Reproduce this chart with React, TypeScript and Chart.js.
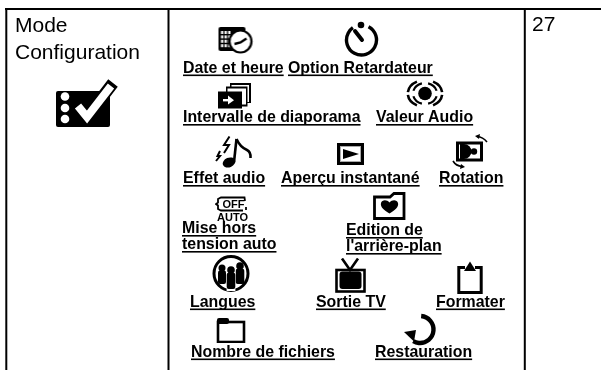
import React, { useEffect, useRef } from "react";
import { Chart, registerables } from "chart.js";

Chart.register(...registerables);

const WIDTH = 601;
const HEIGHT = 370;

// Table rules, as [x, y] runs; null separates them
const ruleX = [5, 601, null, 6.3, 6.3, null, 168.5, 168.5, null, 524.8, 524.8];
const ruleY = [9, 9, null, 8, 370, null, 8, 370, null, 8, 370];

// Plain cell text
const plainNames = ["Mode", "Configuration", "27"];
const plainX = [15, 15, 532];
const plainY = [31.5, 58.5, 31];

// Underlined bold captions
const captionNames = [
  "Date et heure", "Option Retardateur", "Intervalle de diaporama", "Valeur Audio",
  "Effet audio", "Aperçu instantané", "Rotation", "Mise hors", "tension auto",
  "Edition de", "l'arrière-plan", "Langues", "Sortie TV", "Formater",
  "Nombre de fichiers", "Restauration",
];
const captionX = [183, 288, 183, 376, 183, 281, 439, 182, 182, 346, 346, 190, 316, 436, 191, 375];
const captionY = [72.5, 72.5, 122, 122, 183, 183, 183, 233, 249, 235, 251, 306.5, 306.5, 306.5, 356.5, 356.5];

// Small text that belongs to the auto power off icon
const badgeNames = ["OFF", "AUTO"];
const badgeX = [233.5, 232.5];
const badgeY = [207.5, 221];

// Icons: centre and box size
const iconNames = ["mode", "date", "timer", "slides", "audio", "effect", "play", "rotate", "off", "heart", "people", "tv", "format", "folder", "restore"];
const iconX = [87, 235.5, 361.5, 234.5, 425, 233.5, 350.5, 470, 232.5, 389.5, 231, 350.5, 470, 231, 421];
const iconY = [103, 40, 39, 95.5, 93.5, 152.5, 154, 151.5, 204, 206, 273.5, 275.5, 277.5, 330, 329.5];
const iconW = [64, 36, 35, 35, 38, 39, 29, 38, 35, 33, 38, 31, 26, 30, 34];
const iconH = [50, 28, 36, 27, 29, 33, 24, 35, 16, 28, 39, 35, 33, 26, 33];

type Ctx = CanvasRenderingContext2D;

const poly = (c: Ctx, pts: number[][], fill = true, close = true) => {
  c.beginPath();
  pts.forEach(([x, y], i) => (i ? c.lineTo(x, y) : c.moveTo(x, y)));
  if (close) c.closePath();
  if (fill) c.fill();
  else c.stroke();
};
const disc = (c: Ctx, x: number, y: number, r: number) => {
  c.beginPath();
  c.arc(x, y, r, 0, Math.PI * 2);
  c.fill();
};
const arc = (c: Ctx, x: number, y: number, r: number, a: number, b: number, lw: number) => {
  c.lineWidth = lw;
  c.beginPath();
  c.arc(x, y, r, (a * Math.PI) / 180, (b * Math.PI) / 180);
  c.stroke();
};
const oval = (c: Ctx, x: number, y: number, rx: number, ry: number, a: number, b: number, lw: number) => {
  c.lineWidth = lw;
  c.beginPath();
  c.ellipse(x, y, rx, ry, 0, (a * Math.PI) / 180, (b * Math.PI) / 180);
  c.stroke();
};
const K = "#000";
const W = "#fff";

const painters: Record<string, (c: Ctx) => void> = {
  mode(c) {
    c.beginPath();
    c.roundRect(1, 13, 54, 36, 2);
    c.fill();
    c.fillStyle = W;
    [18.5, 30, 41].forEach((y) => disc(c, 10, y, 4.3));
    c.lineJoin = "miter";
    c.lineCap = "butt";
    c.strokeStyle = K;
    c.lineWidth = 12;
    poly(c, [[24, 29], [32, 39], [58, 5]], false, false);
    c.strokeStyle = W;
    c.lineWidth = 8;
    poly(c, [[23, 28], [32, 39], [56, 8]], false, false);
  },
  date(c) {
    c.beginPath();
    c.roundRect(1, 1, 27, 24, 2);
    c.fill();
    c.fillStyle = W;
    for (let i = 0; i < 3; i++) for (let j = 0; j < 4; j++) c.fillRect(3.5 + i * 3.6, 5 + j * 4.4, 2.3, 3);
    c.fillStyle = W;
    c.strokeStyle = K;
    c.lineWidth = 2.2;
    c.beginPath();
    c.arc(23, 15.5, 11, 0, Math.PI * 2);
    c.fill();
    c.stroke();
    c.lineWidth = 2.4;
    poly(c, [[17, 18], [23, 16.5], [29, 12.5]], false, false);
  },
  timer(c) {
    c.lineCap = "butt";
    arc(c, 17.5, 19, 15, -62, 235, 3.4);
    disc(c, 17, 4, 3.3);
    c.lineWidth = 4;
    c.lineCap = "round";
    poly(c, [[11, 10], [18, 19]], false, false);
  },
  slides(c) {
    c.fillRect(13, 1, 21, 20);
    c.fillStyle = W;
    c.fillRect(14.5, 3, 17.5, 17);
    c.fillStyle = K;
    c.fillRect(9, 4.5, 21.5, 20);
    c.fillStyle = W;
    c.fillRect(10.5, 6.5, 18.5, 16);
    c.fillStyle = K;
    c.fillRect(1, 9.5, 24, 17);
    c.fillStyle = W;
    c.fillRect(6, 17, 6, 2.4);
    poly(c, [[11, 13.5], [17, 18.2], [11, 22.5]]);
  },
  audio(c) {
    const x = 19, y = 14.5;
    disc(c, x, y, 6.8);
    c.lineCap = "butt";
    [[-75, -15], [15, 75], [105, 165], [195, 255]].forEach(([a, b]) => oval(c, x, y, 12, 10.5, a, b, 2.2));
    [[-62, -6], [6, 62], [118, 174], [186, 242]].forEach(([a, b]) => oval(c, x, y, 17.2, 13.5, a, b, 2.6));
  },
  effect(c) {
    c.save();
    c.translate(15, 26.5);
    c.rotate(-0.4);
    c.beginPath();
    c.ellipse(0, 0, 6.5, 4.8, 0, 0, Math.PI * 2);
    c.fill();
    c.restore();
    c.lineWidth = 2.6;
    c.lineCap = "butt";
    poly(c, [[20, 26], [22.5, 3]], false, false);
    c.lineWidth = 2.6;
    c.beginPath();
    c.moveTo(22.5, 3);
    c.quadraticCurveTo(26, 11, 33, 14);
    c.quadraticCurveTo(37, 16, 36.5, 22);
    c.stroke();
    c.lineWidth = 2;
    poly(c, [[15.5, 0.5], [10, 9], [15, 9], [10, 17]], false, false);
    poly(c, [[6, 15], [3.5, 20], [6, 20], [2, 25]], false, false);
  },
  play(c) {
    c.strokeStyle = K;
    c.lineWidth = 3;
    c.strokeRect(2.5, 2.5, 24, 19);
    c.strokeStyle = "#aaa";
    c.lineWidth = 1;
    c.strokeRect(4.5, 4.5, 20, 15);
    poly(c, [[7, 7], [23, 12], [7, 17]]);
  },
  rotate(c) {
    c.lineWidth = 3;
    c.strokeRect(6.5, 9, 24, 17);
    c.beginPath();
    c.moveTo(9, 10);
    c.lineTo(13, 10);
    c.arc(13, 17.5, 7.5, -Math.PI / 2, Math.PI / 2);
    c.lineTo(9, 25);
    c.closePath();
    c.fill();
    disc(c, 23, 17.5, 3.2);
    c.lineWidth = 1.6;
    c.beginPath();
    c.moveTo(36, 8);
    c.quadraticCurveTo(32, 3, 26, 2.5);
    c.stroke();
    poly(c, [[24, 2], [29, 0], [28, 5]]);
    c.beginPath();
    c.moveTo(2, 27);
    c.quadraticCurveTo(5, 32, 11, 32.5);
    c.stroke();
    poly(c, [[14, 33], [9, 35], [10, 30]]);
  },
  off(c) {
    c.lineWidth = 1.8;
    c.lineCap = "butt";
    poly(c, [[30, 5], [29.5, 1.5], [6, 1.5], [3, 3], [3, 6.5], [1, 8], [3, 9.5], [3, 13], [6, 14.5], [28, 14.5]], false, false);
    poly(c, [[31, 11], [31, 14]], false, false);
  },
  heart(c) {
    c.lineWidth = 2.8;
    c.lineJoin = "miter";
    poly(c, [[1.5, 5], [17, 5], [21, 1.5], [31, 1.5], [31, 26.5], [1.5, 26.5]], false);
    c.beginPath();
    c.moveTo(16.5, 21.5);
    c.bezierCurveTo(11, 18, 7, 15, 8, 11);
    c.bezierCurveTo(9, 7.5, 14, 7.5, 16.5, 10.5);
    c.bezierCurveTo(19, 7.5, 24, 7.5, 25, 11);
    c.bezierCurveTo(26, 15, 22, 18, 16.5, 21.5);
    c.fill();
  },
  people(c) {
    c.lineWidth = 3;
    c.beginPath();
    c.arc(19, 19.5, 17, 0, Math.PI * 2);
    c.stroke();
    const man = (x: number, top: number, bottom: number, r: number) => {
      disc(c, x, top, r);
      c.beginPath();
      c.roundRect(x - r - 0.5, top + r - 1, 2 * r + 1, bottom - top - r + 1, 2);
      c.fill();
    };
    man(10, 14, 30, 3.5);
    man(28, 12, 30, 3.8);
    c.fillStyle = W;
    c.fillRect(14.6, 13, 8.8, 24);
    c.fillStyle = K;
    man(19, 16, 35, 3.8);
  },
  tv(c) {
    c.lineWidth = 2.6;
    c.lineCap = "butt";
    poly(c, [[7, 0.5], [15, 12], [23, 0.5]], false, false);
    c.lineWidth = 2.6;
    c.strokeRect(1.5, 12, 28, 21.5);
    c.beginPath();
    c.roundRect(4.5, 13.5, 22, 17.5, 3);
    c.fill();
  },
  format(c) {
    c.lineWidth = 3;
    c.lineCap = "butt";
    poly(c, [[8, 6.5], [1.8, 6.5], [1.8, 31.5], [24.2, 31.5], [24.2, 6.5], [18, 6.5]], false, false);
    poly(c, [[13, 0.5], [19, 10], [7, 10]]);
  },
  folder(c) {
    c.lineWidth = 2.6;
    c.lineJoin = "miter";
    c.strokeRect(2, 5, 26, 20);
    c.beginPath();
    c.roundRect(1, 1, 12, 6, 2);
    c.fill();
  },
  restore(c) {
    c.lineCap = "butt";
    arc(c, 16, 16.5, 13.5, -85, 120, 4.4);
    poly(c, [[0, 19], [12, 17], [10, 28.5]]);
  },
};

const makeIcon = (name: string, w: number, h: number) => {
  const cv = document.createElement("canvas");
  cv.width = w;
  cv.height = h;
  const c = cv.getContext("2d") as Ctx;
  c.fillStyle = K;
  c.strokeStyle = K;
  painters[name](c);
  return cv;
};

const textPlugin = {
  id: "cellText",
  afterDatasetsDraw(chart: any) {
    const { ctx, scales } = chart;
    const px = (v: number) => scales.x.getPixelForValue(v);
    const py = (v: number) => scales.y.getPixelForValue(v);
    ctx.save();
    ctx.fillStyle = "#000";
    ctx.textBaseline = "alphabetic";
    ctx.textAlign = "left";

    ctx.font = '21px "Liberation Sans"';
    plainNames.forEach((t, i) => ctx.fillText(t, px(plainX[i]), py(plainY[i])));

    ctx.font = 'bold 15.9px "Liberation Sans"';
    captionNames.forEach((t, i) => {
      const x = px(captionX[i]);
      const y = py(captionY[i]);
      ctx.fillText(t, x, y);
      ctx.fillRect(x, y + 2, ctx.measureText(t).width, 1.6);
    });

    ctx.textAlign = "center";
    ctx.font = 'bold 11px "Liberation Sans"';
    badgeNames.forEach((t, i) => ctx.fillText(t, px(badgeX[i]), py(badgeY[i])));
    ctx.restore();
  },
};

export default function App() {
  const ref = useRef<HTMLCanvasElement>(null);

  useEffect(() => {
    const chart = new Chart(ref.current as HTMLCanvasElement, {
      type: "scatter",
      data: {
        datasets: [
          {
            type: "line",
            data: ruleX.map((x, i) => ({ x, y: ruleY[i] })) as any,
            borderColor: "#000",
            borderWidth: 2,
            pointRadius: 0,
            spanGaps: false,
            parsing: false,
          } as any,
          {
            data: iconNames.map((_, i) => ({ x: iconX[i], y: iconY[i] })),
            pointStyle: iconNames.map((n, i) => makeIcon(n, iconW[i], iconH[i])) as any,
            pointRadius: 10,
            borderWidth: 0,
          },
        ],
      },
      options: {
        animation: false,
        responsive: false,
        events: [],
        layout: { padding: 0, autoPadding: false },
        plugins: { legend: { display: false }, tooltip: { enabled: false } },
        scales: {
          x: { type: "linear", display: false, min: 0, max: WIDTH },
          y: { type: "linear", display: false, min: 0, max: HEIGHT, reverse: true },
        },
      },
      plugins: [textPlugin],
    });
    return () => chart.destroy();
  }, []);

  return (
    <div style={{ position: "absolute", left: 0, top: 0, width: WIDTH, height: HEIGHT, background: "#fff" }}>
      <canvas ref={ref} width={WIDTH} height={HEIGHT} style={{ display: "block" }} />
    </div>
  );
}
